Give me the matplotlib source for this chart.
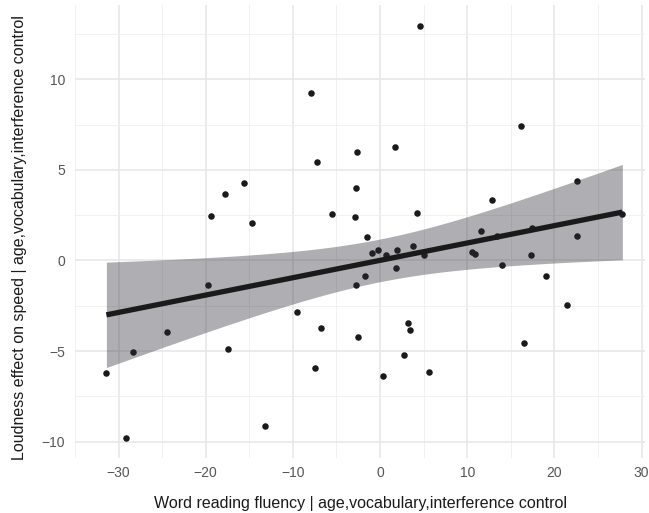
import numpy as np
import matplotlib
matplotlib.use("Agg")
import matplotlib.pyplot as plt

# Partial residuals
fluency = [-7.87, -7.18, -2.66, -2.81, -2.89, -5.55, -19.35, -17.8, -15.6, -14.7,
           4.6, 1.71, 16.19, -1.52, 4.22, 12.88, 22.65, 11.63, 17.45, 22.65,
           27.8, 13.4, -0.91, -0.27, 0.65, 2.0, 3.8, 5.1, 10.5, 10.95,
           17.3, 1.79, -2.74, -1.75, 13.95, 19.04, 21.5, 3.23, 3.46, -2.5,
           2.7, 16.53, 0.38, 5.59, -19.7, -24.4, -28.4, -31.4, -29.1, -17.45,
           -13.15, -9.58, -6.73, -7.45]
loudness = [9.22, 5.46, 5.98, 4.00, 2.42, 2.55, 2.48, 3.69, 4.30, 2.05,
            12.96, 6.29, 7.41, 1.28, 2.64, 3.32, 4.36, 1.65, 1.81, 1.37,
            2.57, 1.37, 0.43, 0.56, 0.30, 0.56, 0.80, 0.30, 0.49, 0.34,
            0.30, -0.40, -1.34, -0.84, -0.25, -0.84, -2.46, -3.45, -3.86, -4.21,
            -5.24, -4.56, -6.38, -6.16, -1.35, -3.95, -5.04, -6.2, -9.81, -4.91,
            -9.13, -2.83, -3.71, -5.92]

x_ticks = [-30, -20, -10, 0, 10, 20, 30]
y_ticks = [-10, -5, 0, 5, 10]

x = np.array(fluency)
y = np.array(loudness)

# linear fit with 95% confidence band
n = len(x)
slope, intercept = np.polyfit(x, y, 1)
resid = y - (intercept + slope * x)
s = np.sqrt(np.sum(resid ** 2) / (n - 2))
sxx = np.sum((x - x.mean()) ** 2)
xs = np.linspace(x.min(), x.max(), 200)
fit = intercept + slope * xs
se = s * np.sqrt(1 / n + (xs - x.mean()) ** 2 / sxx)
t_crit = 2.0066

plt.rcParams["font.family"] = ["Liberation Sans", "DejaVu Sans"]

fig = plt.figure(figsize=(6.49, 5.13), dpi=100)
ax = fig.add_axes([75 / 649, 55 / 513, 570 / 649, 453 / 513])

ax.scatter(x, y, s=22, color="#1a1a1a", zorder=3, linewidths=0)
ax.fill_between(xs, fit - t_crit * se, fit + t_crit * se, color="#2c2c38",
                alpha=0.38, linewidth=0, zorder=4)
ax.plot(xs, fit, color="#1a1a1a", linewidth=3.8, zorder=5, solid_capstyle="butt")

ax.set_xlim(-34.4, 30.4)
ax.set_ylim(-10.9, 14.1)
ax.set_xticks(x_ticks)
ax.set_yticks(y_ticks)
ax.set_xticks([-35, -25, -15, -5, 5, 15, 25], minor=True)
ax.set_yticks([-7.5, -2.5, 2.5, 7.5, 12.5], minor=True)
ax.grid(which="major", color="#e6e6e6", linewidth=1.1)
ax.grid(which="minor", color="#efefef", linewidth=0.6)
ax.set_axisbelow(True)
for sp in ax.spines.values():
    sp.set_visible(False)
ax.tick_params(which="both", length=0, labelsize=10, labelcolor="#555555")
ax.tick_params(axis="x", pad=5.5)
ax.tick_params(axis="y", pad=7)

ax.set_xlabel("Word reading fluency | age,vocabulary,interference control",
              fontsize=11.5, color="#1a1a1a")
ax.set_ylabel("Loudness effect on speed | age,vocabulary,interference control",
              fontsize=11.5, color="#1a1a1a")
ax.xaxis.set_label_coords(0.5, -0.084)
ax.yaxis.set_label_coords(-0.084, 0.487)

fig.savefig("out.png", dpi=100)
